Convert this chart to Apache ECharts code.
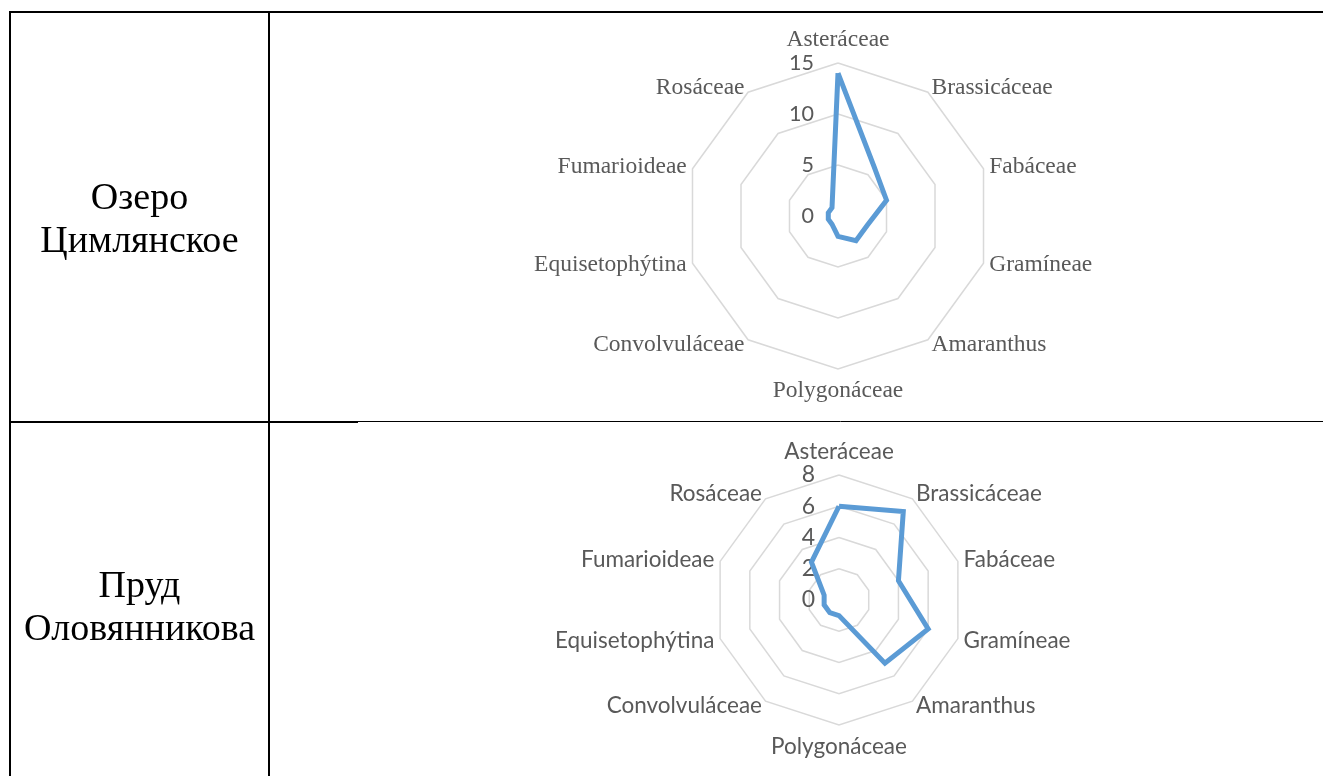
<!DOCTYPE html>
<html>
<head>
<meta charset="utf-8">
<script src="https://cdn.jsdelivr.net/npm/echarts@6/dist/echarts.min.js"></script>
<style>
  html, body { margin: 0; padding: 0; background: #fff; }
  #chart { width: 1323px; height: 776px; }
</style>
</head>
<body>
<div id="chart"></div>
<script>
// families, read clockwise from the top of each radar
const families = ['Asteráceae', 'Brassicáceae', 'Fabáceae', 'Gramíneae', 'Amaranthus',
  'Polygonáceae', 'Convolvuláceae', 'Equisetophýtina', 'Fumarioideae', 'Rosáceae'];
const lakeValues = [14, 6, 5, 3, 3, 2, 1, 1, 1, 1];   // Озеро Цимлянское
const pondValues = [6, 7, 4, 6, 5, 1, 1, 1, 1, 3];    // Пруд Оловянникова
const rowTitles = ['Озеро\nЦимлянское', 'Пруд\nОловянникова'];
const lakeMax = 15;
const pondMax = 8;

const GRAY = '#595959';
const BLUE = '#5B9BD5';

// echarts lays indicators out counter-clockwise, the source goes clockwise
const order = families.map((_, i) => (families.length - i) % families.length);

const makeRadar = (center, radius, max, splits, nameFont, nameSize, tickSize) => ({
  center: center,
  radius: radius,
  startAngle: 90,
  shape: 'polygon',
  splitNumber: splits,
  nameGap: 6,
  indicator: order.map((k, i) => {
    const ind = { name: families[k], min: 0, max: max };
    if (i === 0) ind.axisLabel = { show: true };   // ticks only on the top axis
    return ind;
  }),
  // a bit of top padding nudges the names down like in the source
  axisName: { color: GRAY, fontFamily: nameFont, fontSize: nameSize, padding: [4, 0, 0, 0] },
  axisLine: { show: false },
  axisTick: { show: false },
  axisLabel: { show: false, color: GRAY, fontFamily: 'Lato', fontSize: tickSize, margin: 24 },
  splitLine: { lineStyle: { color: '#D9D9D9', width: 1.5 } },
  splitArea: { show: false }
});

const radarSeries = (idx, values) => ({
  type: 'radar',
  radarIndex: idx,
  symbol: 'none',
  silent: true,
  lineStyle: { color: BLUE, width: 5, join: 'miter' },
  data: [{ value: order.map(k => values[k]) }]
});

// table frame
const frameLine = (x1, y1, x2, y2, w) => ({
  type: 'line',
  shape: { x1: x1, y1: y1, x2: x2, y2: y2 },
  style: { stroke: '#000', lineWidth: w }
});

const rowText = (text, y) => ({
  type: 'text',
  x: 139.5,
  y: y,
  style: {
    text: text,
    font: '38px "Liberation Serif"',
    fill: '#000',
    align: 'center',
    verticalAlign: 'middle',
    lineHeight: 43
  }
});

const chart = echarts.init(document.getElementById('chart'));
chart.setOption({
  animation: false,
  backgroundColor: '#fff',
  radar: [
    makeRadar([838, 216], 153, lakeMax, 3, 'Liberation Serif', 23.5, 21.5),
    makeRadar([839, 600], 125, pondMax, 4, 'Lato', 22.5, 23)
  ],
  series: [
    radarSeries(0, lakeValues),
    radarSeries(1, pondValues)
  ],
  graphic: [
    frameLine(10, 12, 1323, 12, 2),
    frameLine(10, 11, 10, 776, 2),
    frameLine(269, 11, 269, 776, 2),
    frameLine(10, 422, 358, 422, 2),
    frameLine(358, 421.5, 1323, 421.5, 1),
    rowText(rowTitles[0], 221),
    rowText(rowTitles[1], 609)
  ]
});
</script>
</body>
</html>
